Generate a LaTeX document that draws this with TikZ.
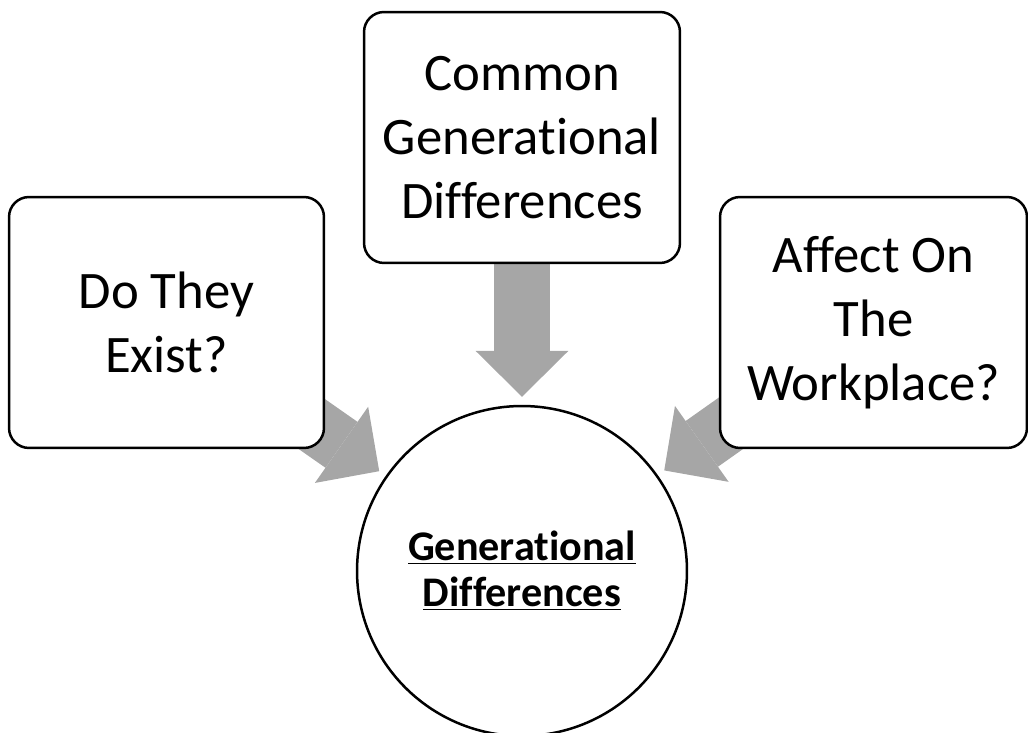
\documentclass[tikz,border=0pt]{standalone}
\usepackage{fontspec}
\setmainfont{Carlito}[Ligatures=NoCommon]
\usetikzlibrary{arrows.meta,backgrounds}
\definecolor{arrowgray}{RGB}{166,166,166}
\tikzset{
	topicbox/.style={draw, line width=0.05cm, rounded corners=0.4cm, fill=white, minimum height=5.02cm, align=center, font=\fontsize{30}{36.3}\selectfont},
	hubcircle/.style={draw, circle, line width=0.05cm, fill=white, minimum size=6.6cm, inner sep=0pt, align=center, font=\bfseries\fontsize{24}{26.2}\selectfont},
	bigarrow/.style={draw=arrowgray, line width=1.12cm, -{Triangle[length=0.92cm, width=1.86cm, line width=0pt]}, shorten >=0.16cm}
}

\begin{document}
\begin{tikzpicture}[x=0.02cm, y=0.02cm]
			%%%%% START %%%%%
			
			\useasboundingbox (0, 0) rectangle (1028, 733);
			
			\node[topicbox, minimum width=6.3cm] (exist) at (166.5, 410.5) {Do They\\Exist?};
			\node[topicbox, minimum width=6.32cm] (common) at (522, 595.5) {Common\\Generational\\Differences};
			\node[topicbox, minimum width=6.14cm] (affect) at (873.5, 410.5) {Affect On\\The\\Workplace?};
			
			\node[hubcircle] (hub) at (522, 162) {\underline{Generational}\\\underline{Differences}};
			
			\begin{pgfonlayer}{background}
				\draw[bigarrow] (exist.center) -- (hub);
				\draw[bigarrow] (common.center) -- (hub);
				\draw[bigarrow] (affect.center) -- (hub);
			\end{pgfonlayer}
			
			%%%%% END %%%%%
\end{tikzpicture}
\end{document}
